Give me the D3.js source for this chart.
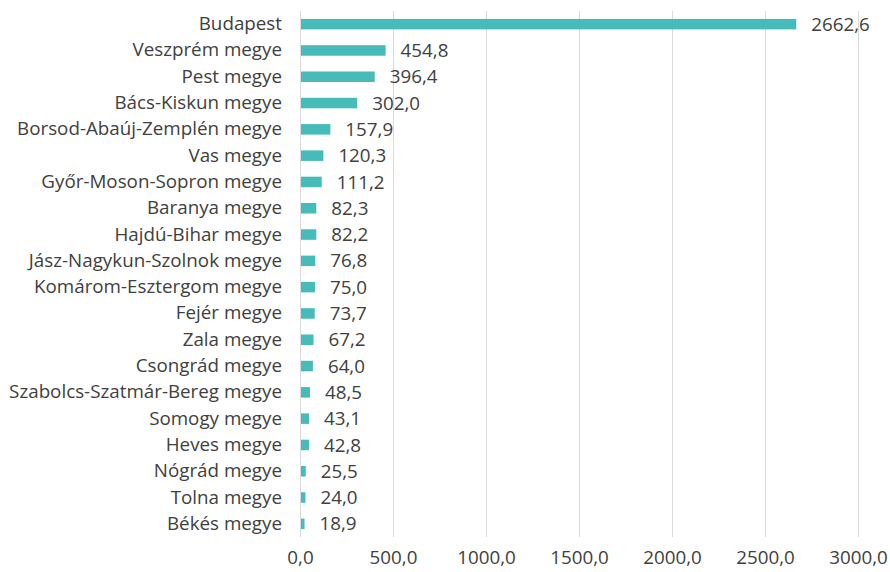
<!DOCTYPE html>
<html>
<head>
<meta charset="utf-8">
<script src="https://cdn.jsdelivr.net/npm/d3@7"></script>
<style>
  html, body { margin: 0; padding: 0; background: #fff; }
  svg text { font-family: "Open Sans", "Noto Sans", sans-serif; fill: #404040; }
</style>
</head>
<body>
<svg id="chart" width="890" height="572"></svg>
<script>
const categories = [
  "Budapest", "Veszprém megye", "Pest megye", "Bács-Kiskun megye",
  "Borsod-Abaúj-Zemplén megye", "Vas megye", "Győr-Moson-Sopron megye",
  "Baranya megye", "Hajdú-Bihar megye", "Jász-Nagykun-Szolnok megye",
  "Komárom-Esztergom megye", "Fejér megye", "Zala megye", "Csongrád megye",
  "Szabolcs-Szatmár-Bereg megye", "Somogy megye", "Heves megye",
  "Nógrád megye", "Tolna megye", "Békés megye"
];
const values = [
  2662.6, 454.8, 396.4, 302.0, 157.9, 120.3, 111.2, 82.3, 82.2, 76.8,
  75.0, 73.7, 67.2, 64.0, 48.5, 43.1, 42.8, 25.5, 24.0, 18.9
];
const xTicks = [0, 500, 1000, 1500, 2000, 2500, 3000];

const svg = d3.select("#chart");
const plot = { left: 300, right: 858, top: 11, bottom: 537 };
const fontSize = 18.8;
const fmt = v => v.toFixed(1).replace(".", ",");

const x = d3.scaleLinear().domain([0, 3000]).range([plot.left, plot.right]);
const y = d3.scaleBand().domain(categories).range([plot.top, plot.bottom]).paddingInner(0.6).paddingOuter(0.3);

// vertical gridlines
svg.append("g")
  .selectAll("line")
  .data(xTicks)
  .join("line")
  .attr("x1", d => x(d) + 0.5).attr("x2", d => x(d) + 0.5)
  .attr("y1", plot.top).attr("y2", plot.bottom)
  .attr("stroke", "#d9d9d9").attr("stroke-width", 1);

// bottom axis labels
const xAxis = d3.axisBottom(x).tickValues(xTicks).tickFormat(fmt).tickSize(0).tickPadding(14);
const gx = svg.append("g").attr("transform", `translate(0,${plot.bottom})`).call(xAxis);
gx.select(".domain").remove();
gx.selectAll("text").attr("font-size", fontSize).style("font-family", '"Open Sans", sans-serif').attr("fill", "#404040");

// category labels
const yAxis = d3.axisLeft(y).tickSize(0).tickPadding(18);
const gy = svg.append("g").attr("transform", `translate(${plot.left},0)`).call(yAxis);
gy.select(".domain").remove();
gy.selectAll("text").attr("font-size", fontSize).style("font-family", '"Open Sans", sans-serif').attr("fill", "#404040");

// bars
svg.append("g")
  .selectAll("rect")
  .data(values)
  .join("rect")
  .attr("x", x(0) + 1)
  .attr("y", (d, i) => y(categories[i]))
  .attr("width", d => x(d) - x(0))
  .attr("height", y.bandwidth())
  .attr("fill", "#47baba");

// value labels
svg.append("g")
  .selectAll("text")
  .data(values)
  .join("text")
  .attr("x", d => x(d) + 16)
  .attr("y", (d, i) => y(categories[i]) + y.bandwidth() / 2)
  .attr("dy", "0.35em")
  .attr("font-size", fontSize)
  .text(fmt);
</script>
</body>
</html>
